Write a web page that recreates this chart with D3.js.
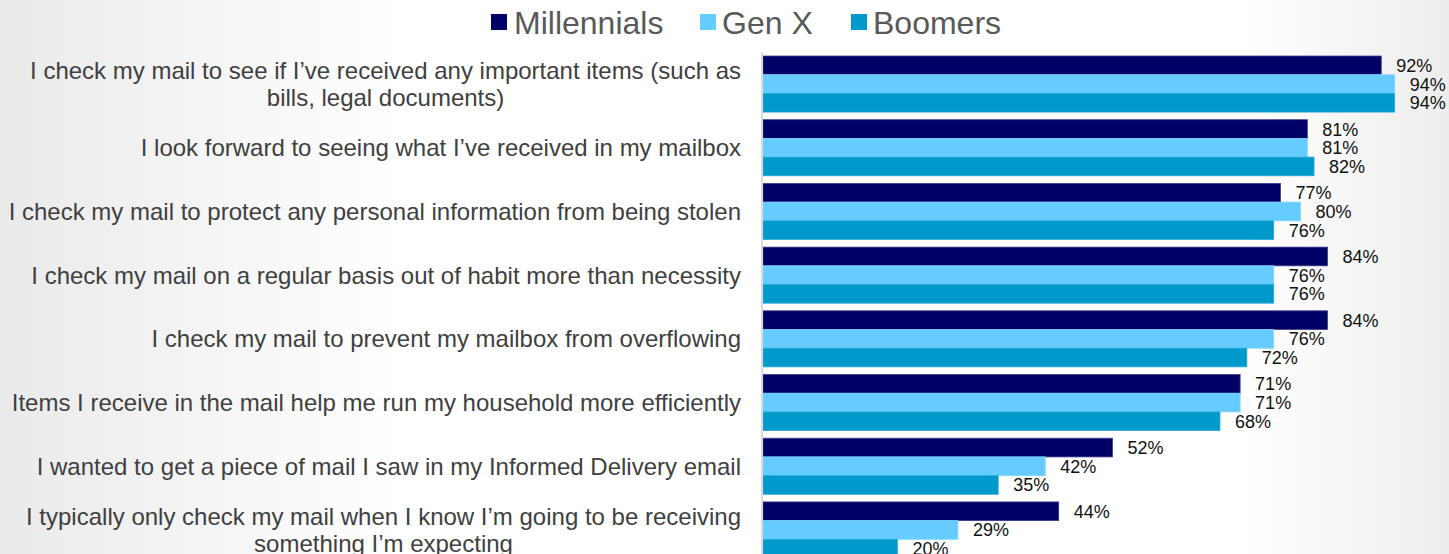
<!DOCTYPE html>
<html>
<head>
<meta charset="utf-8">
<script src="https://cdn.jsdelivr.net/npm/d3@7"></script>
<style>
  html, body { margin: 0; padding: 0; overflow: hidden; }
  svg { display: block; font-family: "Liberation Sans", Arial, sans-serif; }
</style>
</head>
<body>
<svg id="chart" width="1449" height="554"></svg>
<script>
// Survey statements (each entry is one label, split into its display lines)
const categories = [
  ["I check my mail to see if I\u2019ve received any important items (such as", "bills, legal documents)"],
  ["I look forward to seeing what I\u2019ve received in my mailbox"],
  ["I check my mail to protect any personal information from being stolen"],
  ["I check my mail on a regular basis out of habit more than necessity"],
  ["I check my mail to prevent my mailbox from overflowing"],
  ["Items I receive in the mail help me run my household more efficiently"],
  ["I wanted to get a piece of mail I saw in my Informed Delivery email"],
  ["I typically only check my mail when I know I\u2019m going to be receiving", "something I\u2019m expecting"]
];

const seriesNames = ["Millennials", "Gen X", "Boomers"];
const millennials = [92, 81, 77, 84, 84, 71, 52, 44];
const genX        = [94, 81, 80, 76, 76, 71, 42, 29];
const boomers     = [94, 82, 76, 76, 72, 68, 35, 20];

const seriesValues = [millennials, genX, boomers];
const colors  = ["#000066", "#66CCFF", "#0099CC"];
const strokes = ["#3b3b8f", "#7fd6ff", "#2aa9d6"];

const W = 1449, H = 554;
const svg = d3.select("#chart");

// Soft grey-to-white slide background
const defs = svg.append("defs");
const grad = defs.append("linearGradient").attr("id", "bg")
  .attr("x1", "0%").attr("x2", "100%").attr("y1", "0%").attr("y2", "0%");
[["0%", "#eaeaea"], ["28%", "#ffffff"], ["86%", "#ffffff"], ["100%", "#ededed"]]
  .forEach(([o, c]) => grad.append("stop").attr("offset", o).attr("stop-color", c));
svg.append("rect").attr("width", W).attr("height", H).attr("fill", "url(#bg)");

// Scales
const idx = d3.range(categories.length);
const y = d3.scaleBand().domain(idx).range([52.2, 561.8])
  .paddingInner(0.12).paddingOuter(0.06);
const ySub = d3.scaleBand().domain(d3.range(seriesNames.length)).range([0, y.bandwidth()]);
const x = d3.scaleLinear().domain([0, 100]).range([763, 1435]);

// Bars
const groups = svg.append("g").selectAll("g").data(idx).join("g")
  .attr("transform", i => `translate(0,${y(i)})`);

groups.selectAll("rect")
  .data(i => seriesValues.map((vals, s) => ({ s, v: vals[i] })))
  .join("rect")
  .attr("x", x(0))
  .attr("y", d => ySub(d.s))
  .attr("width", d => x(d.v) - x(0))
  .attr("height", ySub.bandwidth())
  .attr("fill", d => colors[d.s])
  .attr("stroke", d => strokes[d.s])
  .attr("stroke-width", 0.8);

// Value labels
groups.selectAll("text.val")
  .data(i => seriesValues.map((vals, s) => ({ s, v: vals[i] })))
  .join("text")
  .attr("class", "val")
  .attr("x", d => x(d.v) + 15)
  .attr("y", d => ySub(d.s) + ySub.bandwidth() / 2)
  .attr("dy", "0.36em")
  .attr("font-size", 18)
  .attr("fill", "#111111")
  .text(d => d.v + "%");

// Category axis (line + wrapped labels)
const yAxis = d3.axisLeft(y).tickSize(0).tickFormat("");
const axisG = svg.append("g").attr("transform", `translate(${x(0) - 1},0)`).call(yAxis);
axisG.select(".domain").attr("stroke", "#d9d9d9").attr("stroke-width", 2)
  .attr("d", `M0,${y.range()[0]}V${H}`);

const lineH = 27;
svg.append("g").selectAll("text").data(idx).join("text")
  .attr("text-anchor", "middle")
  .attr("font-size", 24)
  .attr("fill", "#404040")
  .each(function (i) {
    const lines = categories[i];
    const t = d3.select(this);
    const cy = y(i) + y.bandwidth() / 2;
    const first = cy - (lines.length - 1) * lineH / 2;
    lines.forEach((ln, k) => {
      t.append("tspan").attr("y", first + k * lineH).attr("dy", "0.36em").text(ln);
    });
    // right-align the block against the axis, centring the lines within it
    const spans = t.selectAll("tspan").nodes();
    const maxW = d3.max(spans, n => n.getComputedTextLength());
    t.selectAll("tspan").attr("x", 741 - maxW / 2);
  });

// Legend
const legendItems = [
  { name: seriesNames[0], sx: 491, tx: 514 },
  { name: seriesNames[1], sx: 700, tx: 722 },
  { name: seriesNames[2], sx: 851, tx: 873 }
];
const lg = svg.append("g");
lg.selectAll("rect").data(legendItems).join("rect")
  .attr("x", d => d.sx).attr("y", 14).attr("width", 16).attr("height", 16)
  .attr("fill", (d, i) => colors[i]);
lg.selectAll("text").data(legendItems).join("text")
  .attr("x", d => d.tx).attr("y", 22).attr("dy", "0.36em")
  .attr("font-size", 32).attr("fill", "#595959")
  .text(d => d.name);
</script>
</body>
</html>
